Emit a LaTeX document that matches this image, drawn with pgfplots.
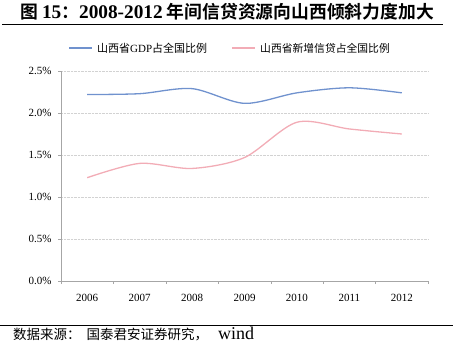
\documentclass[border=0pt]{standalone}
\usepackage{fontspec}
\setmainfont{Liberation Serif}
\newfontfamily\cjk{Noto Sans CJK SC}
\newfontfamily\cjkb{Noto Sans CJK SC Bold}
\usepackage{pgfplots}
\pgfplotsset{compat=1.18}
\definecolor{gdpblue}{RGB}{112,146,206}
\definecolor{loanpink}{RGB}{242,172,182}
\begin{document}
\begin{tikzpicture}[x=1pt,y=1pt]
\path[use as bounding box] (0,0) rectangle (455,-356);
% title
\node[anchor=west,inner sep=0] at (20,-12) {\fontsize{17.8}{19}\selectfont\cjkb 图\ {\fontsize{19.3}{20}\selectfont\bfseries\rmfamily 15}：{\fontsize{19.3}{20}\selectfont\bfseries\rmfamily 2008-2012} 年间信贷资源向山西倾斜力度加大};
\draw[line width=1pt] (2,-24) -- (443,-24);
% legend
\draw[gdpblue,line width=1.3pt] (69,-48) -- (92,-48);
\node[anchor=west,inner sep=0] at (97,-48) {\fontsize{11}{12}\selectfont\cjk 山西省\rmfamily GDP\cjk 占全国比例};
\draw[loanpink,line width=1.3pt] (232,-48) -- (255,-48);
\node[anchor=west,inner sep=0] at (260,-48) {\fontsize{10.8}{12}\selectfont\cjk 山西省新增信贷占全国比例};
% bottom rule and source
\draw[line width=0.8pt] (0,-325) -- (453,-325);
\node[anchor=west,inner sep=0] at (13,-334) {\fontsize{13.5}{15}\selectfont\cjk 数据来源：\hspace{6pt}国泰君安证券研究，\hspace{10pt}{\fontsize{18}{19}\selectfont\rmfamily wind}};
\begin{axis}[
  at={(61pt,-281pt)}, anchor=south west,
  scale only axis, width=367pt, height=210pt,
  xmin=-0.5, xmax=6.5, ymin=0, ymax=2.5,
  axis lines*=left,
  axis line style={draw=gray!70, line width=0.6pt},
  xtick={0,...,6},
  xticklabels={2006,2007,2008,2009,2010,2011,2012},
  minor xtick={-0.5,0.5,...,6.5},
  major x tick style={draw=none},
  minor x tick style={draw=gray!70},
  ytick={0,0.5,...,2.5},
  yticklabel={\pgfmathprintnumber[fixed,fixed zerofill,precision=1]{\tick}\%},
  /pgf/number format/assume math mode=true,
  tick align=outside,
  tick style={draw=gray!70},
  major tick length=3pt, minor tick length=3pt,
  ymajorgrids,
  grid style={gray!35, densely dotted, line width=0.6pt},
  tick label style={font=\fontsize{11}{12}\selectfont},
  xticklabel style={yshift=-7pt},
  yticklabel style={xshift=-3pt},
  clip=false,
]
\addplot[gdpblue, line width=1.3pt, smooth, tension=0.5] coordinates {
(0,2.22) (1,2.23) (2,2.29) (3,2.115) (4,2.24) (5,2.30) (6,2.24)};
\addplot[loanpink, line width=1.3pt, smooth, tension=0.5] coordinates {
(0,1.23) (1,1.40) (2,1.34) (3,1.47) (4,1.89) (5,1.81) (6,1.75)};
\end{axis}
\end{tikzpicture}
\end{document}
